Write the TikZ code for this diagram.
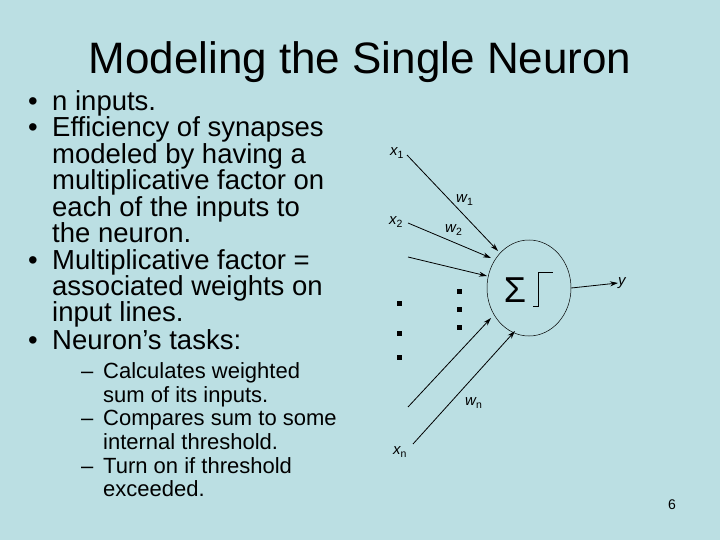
\documentclass[tikz,border=0pt]{standalone}
\usepackage{fontspec}
\setmainfont{Liberation Sans}
\usetikzlibrary{arrows.meta,shapes.geometric}
\begin{document}
\begin{tikzpicture}[x=1pt,y=-1pt,
 txt/.style={anchor=base west,inner sep=0pt,font=\fontsize{27.5}{28}\selectfont},
 sub/.style={anchor=base west,inner sep=0pt,font=\fontsize{22}{22}\selectfont},
 lbl/.style={inner sep=0pt,font=\fontsize{15}{15}\selectfont\itshape},
 inarr/.style={-{Stealth[length=8pt,width=5pt]},line width=0.8pt},
 dot/.style={fill=black,minimum size=5pt,inner sep=0pt,rectangle}]
\fill[fill={rgb,255:red,187;green,223;blue,227}] (0,0) rectangle (720,540);
\node[inner sep=0pt,font=\fontsize{44}{44}\selectfont] (title) at (360,62) {Modeling the Single Neuron};
\foreach \y/\b/\t [count=\i] in {102/1/n inputs.,128/1/Efficiency of synapses,155/0/modeled by having a,181/0/multiplicative factor on,207/0/each of the inputs to,233/0/the neuron.,260/1/Multiplicative factor =,286/0/associated weights on,312/0/input lines.,340/1/Neuron’s tasks:}{
 \node[txt] (t\i) at (52,\y+9) {\t};
 \ifnum\b=1 \node[txt] (b\i) at (28,\y+9) {•};\fi
}
\foreach \y/\b/\t [count=\i] in {371/1/Calculates weighted,395/0/sum of its inputs.,418/1/Compares sum to some,442/0/internal threshold.,466/1/Turn on if threshold,489/0/exceeded.}{
 \node[sub] (s\i) at (103,\y+7) {\t};
 \ifnum\b=1 \node[sub] (d\i) at (81,\y+7) {–};\fi
}
\node[draw,ellipse,minimum width=84pt,minimum height=96pt,line width=0.5pt] (n) at (529,288) {};
\node[inner sep=0pt,font=\fontsize{36}{36}\selectfont] (sig) at (515,290) {Σ};
\coordinate (st) at (533,306);
\draw[line width=0.8pt] (st) -- ++(5,0) -- ++(0,-34) -- ++(15,0);
\node[lbl,anchor=west] (x1) at (390,153) {x\textsubscript{\upshape 1}};
\node[lbl,anchor=west] (x2) at (389,222) {x\textsubscript{\upshape 2}};
\node[lbl,anchor=west] (xn) at (393,452) {x\textsubscript{\upshape n}};
\node[lbl,anchor=west] (w1) at (456,200) {w\textsubscript{\upshape 1}};
\node[lbl,anchor=west] (w2) at (445,230) {w\textsubscript{\upshape 2}};
\node[lbl,anchor=west] (wn) at (465,403) {w\textsubscript{\upshape n}};
\node[lbl,anchor=west] (y) at (618,283) {y};
\coordinate (a1) at (407,155); \coordinate (a2) at (408,223); \coordinate (a3) at (408,257);
\coordinate (a4) at (408,407); \coordinate (a5) at (413,444);
\draw[inarr] (a1) -- (498,251);
\draw[inarr] (a2) -- (491,258);
\draw[inarr] (a3) -- (487,276);
\draw[inarr] (a4) -- (491,318);
\draw[inarr] (a5) -- (515,331);
\draw[inarr] (n.east) -- (y.west);
\foreach \p/\q [count=\k] in {399/303,399/333,399/357,459/291,459/309,459/327}
 \node[dot] (dot\k) at (\p,\q) {};
\node[inner sep=0pt,font=\fontsize{14}{14}\selectfont] (pg) at (672,505) {6};
\end{tikzpicture}
\end{document}
